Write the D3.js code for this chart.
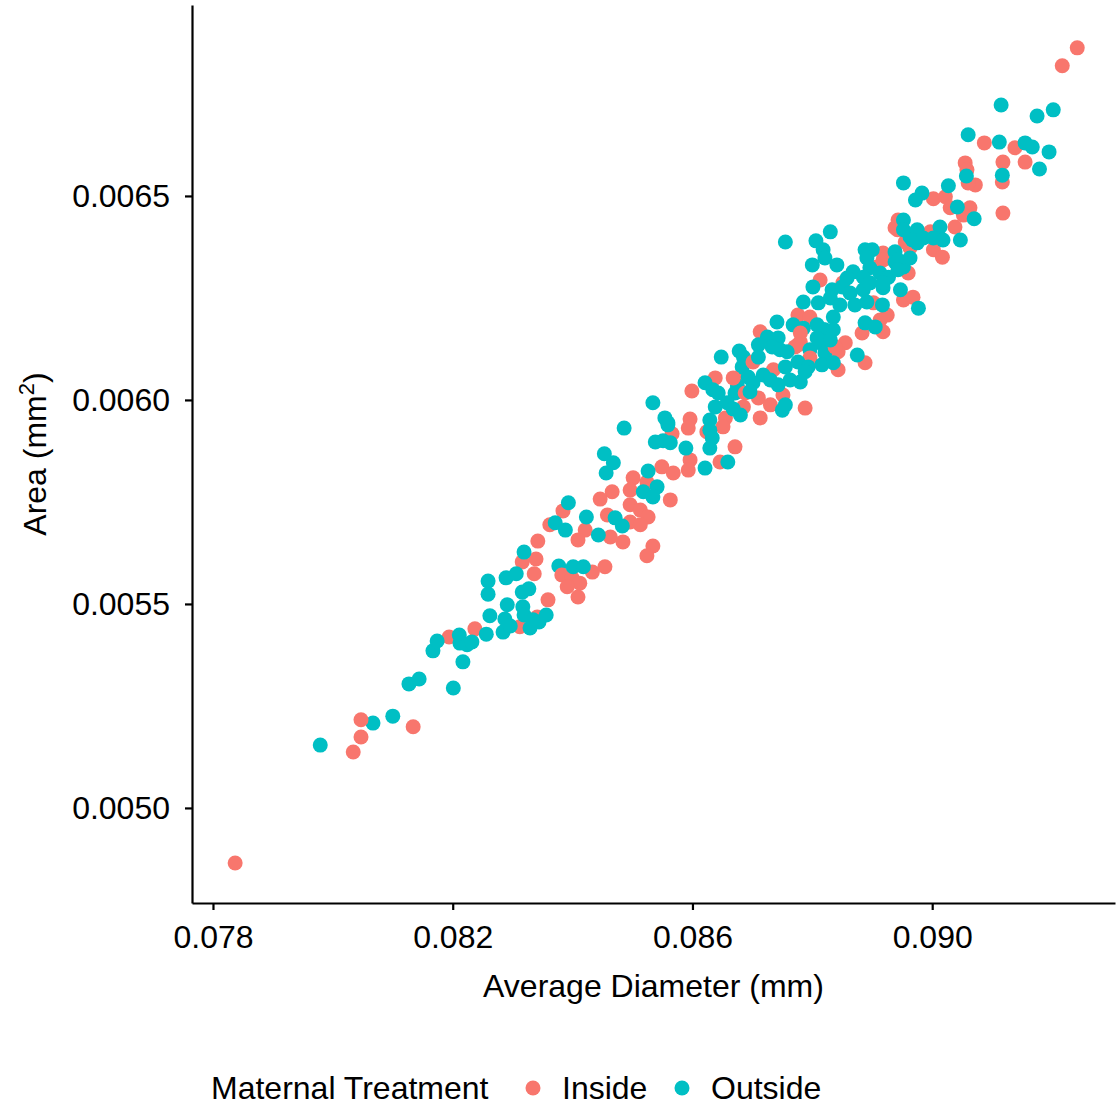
<!DOCTYPE html>
<html>
<head>
<meta charset="utf-8">
<script src="https://cdn.jsdelivr.net/npm/d3@7"></script>
<style>
    body { margin: 0; background: #ffffff; }
    text { font-family: "Liberation Sans", Arial, Helvetica, sans-serif; fill: #000000; }
</style>
</head>
<body>
<div id="scatter"></div>
<script>
// [average diameter (mm), area (mm^2)]
var insidePoints = [
    [0.07837, 0.004865], [0.08034, 0.005137], [0.08047, 0.005174], [0.08047, 0.005216], [0.08134, 0.005199],
    [0.08194, 0.005419], [0.08237, 0.005439], [0.08312, 0.005444], [0.08341, 0.005468], [0.08359, 0.005510],
    [0.08336, 0.005574], [0.08316, 0.005603], [0.08339, 0.005610], [0.08342, 0.005654], [0.08362, 0.005694],
    [0.08566, 0.005917], [0.08549, 0.005836], [0.08568, 0.005821], [0.08501, 0.005809], [0.08524, 0.005799],
    [0.08563, 0.005755], [0.08496, 0.005779], [0.08466, 0.005775], [0.08446, 0.005757], [0.08496, 0.005743],
    [0.08513, 0.005730], [0.08526, 0.005713], [0.08458, 0.005718], [0.08496, 0.005701], [0.08513, 0.005694],
    [0.08384, 0.005728], [0.08421, 0.005681], [0.08409, 0.005657], [0.08463, 0.005664], [0.08484, 0.005652],
    [0.08534, 0.005642], [0.08524, 0.005618], [0.08382, 0.005571], [0.08399, 0.005564], [0.08412, 0.005551],
    [0.08433, 0.005578], [0.08454, 0.005591], [0.08391, 0.005542], [0.08409, 0.005517],
    [0.08638, 0.006054], [0.08675, 0.006054], [0.08599, 0.006022], [0.08685, 0.005983], [0.08596, 0.005953],
    [0.08593, 0.005931], [0.08655, 0.005956], [0.08651, 0.005934], [0.08624, 0.005922], [0.08671, 0.005885],
    [0.08596, 0.005853], [0.08646, 0.005848], [0.08593, 0.005828],
    [0.08776, 0.006208], [0.08796, 0.006203], [0.08713, 0.006167], [0.08771, 0.006130], [0.08780, 0.006142],
    [0.08701, 0.006093], [0.08735, 0.006074], [0.08668, 0.006054], [0.08688, 0.006017], [0.08710, 0.006005],
    [0.08751, 0.006012], [0.08730, 0.005988], [0.08788, 0.005980], [0.08713, 0.005956],
    [0.08938, 0.006422], [0.08955, 0.006387], [0.08918, 0.006360], [0.08908, 0.006326], [0.08960, 0.006311],
    [0.08813, 0.006294], [0.08851, 0.006287], [0.08952, 0.006245], [0.08968, 0.006252], [0.08902, 0.006238],
    [0.08925, 0.006208], [0.08913, 0.006196], [0.08883, 0.006164], [0.08918, 0.006167], [0.08780, 0.006164],
    [0.08855, 0.006140], [0.08843, 0.006118], [0.08776, 0.006135], [0.08888, 0.006091], [0.08796, 0.006103],
    [0.08843, 0.006074],
    [0.09055, 0.006581], [0.09118, 0.006583], [0.09155, 0.006583], [0.09072, 0.006527], [0.09117, 0.006534],
    [0.09118, 0.006458], [0.09002, 0.006493], [0.09022, 0.006498], [0.09030, 0.006471], [0.09063, 0.006471],
    [0.09052, 0.006453], [0.09038, 0.006424], [0.08943, 0.006441], [0.08942, 0.006417], [0.08997, 0.006412],
    [0.08963, 0.006373], [0.09002, 0.006368], [0.09017, 0.006350], [0.08918, 0.006343],
    [0.09242, 0.006863], [0.09217, 0.006819], [0.09087, 0.006630], [0.09138, 0.006618], [0.09058, 0.006564],
    [0.09060, 0.006532], [0.08838, 0.006130]
];

var outsidePoints = [
    [0.07979, 0.005154], [0.08067, 0.005208], [0.08100, 0.005225], [0.08127, 0.005304], [0.08144, 0.005316],
    [0.08167, 0.005385], [0.08201, 0.005294], [0.08217, 0.005358], [0.08174, 0.005409], [0.08211, 0.005424],
    [0.08212, 0.005404], [0.08224, 0.005400], [0.08232, 0.005407], [0.08256, 0.005426], [0.08262, 0.005471],
    [0.08259, 0.005524], [0.08259, 0.005556], [0.08289, 0.005564], [0.08306, 0.005574], [0.08284, 0.005431],
    [0.08287, 0.005463], [0.08291, 0.005498], [0.08296, 0.005446], [0.08316, 0.005529], [0.08327, 0.005537],
    [0.08317, 0.005493], [0.08319, 0.005473], [0.08329, 0.005441], [0.08334, 0.005461], [0.08344, 0.005456],
    [0.08356, 0.005473], [0.08319, 0.005627], [0.08377, 0.005593], [0.08371, 0.005699],
    [0.08486, 0.005931], [0.08559, 0.005944], [0.08538, 0.005897], [0.08551, 0.005900], [0.08563, 0.005895],
    [0.08453, 0.005868], [0.08468, 0.005846], [0.08456, 0.005821], [0.08526, 0.005826], [0.08541, 0.005787],
    [0.08518, 0.005775], [0.08534, 0.005762], [0.08471, 0.005711], [0.08483, 0.005691], [0.08423, 0.005713],
    [0.08393, 0.005748], [0.08443, 0.005669], [0.08388, 0.005681], [0.08401, 0.005591], [0.08418, 0.005591],
    [0.08678, 0.006120], [0.08685, 0.006105], [0.08648, 0.006105], [0.08683, 0.006081], [0.08621, 0.006042],
    [0.08634, 0.006025], [0.08643, 0.006017], [0.08675, 0.006034], [0.08671, 0.006017], [0.08534, 0.005993],
    [0.08638, 0.005983], [0.08658, 0.005993], [0.08668, 0.005978], [0.08680, 0.005963], [0.08629, 0.005951],
    [0.08629, 0.005926], [0.08633, 0.005907], [0.08629, 0.005882], [0.08554, 0.005956], [0.08559, 0.005939],
    [0.08589, 0.005882], [0.08659, 0.005848], [0.08621, 0.005833],
    [0.08785, 0.006240], [0.08810, 0.006238], [0.08741, 0.006191], [0.08768, 0.006184], [0.08785, 0.006176],
    [0.08808, 0.006184], [0.08821, 0.006172], [0.08725, 0.006154], [0.08743, 0.006152], [0.08710, 0.006135],
    [0.08733, 0.006130], [0.08746, 0.006123], [0.08796, 0.006123], [0.08813, 0.006140], [0.08821, 0.006115],
    [0.08710, 0.006105], [0.08755, 0.006081], [0.08776, 0.006093], [0.08793, 0.006081], [0.08816, 0.006086],
    [0.08693, 0.006056], [0.08718, 0.006061], [0.08701, 0.006042], [0.08730, 0.006049], [0.08743, 0.006037],
    [0.08763, 0.006049], [0.08780, 0.006044], [0.08696, 0.006020], [0.08750, 0.005975], [0.08755, 0.005988],
    [0.08755, 0.006387], [0.08830, 0.006412], [0.08806, 0.006390], [0.08818, 0.006368], [0.08821, 0.006348],
    [0.08800, 0.006331], [0.08841, 0.006331], [0.08963, 0.006400], [0.08975, 0.006385], [0.08888, 0.006368],
    [0.08900, 0.006368], [0.08938, 0.006363], [0.08891, 0.006348], [0.08896, 0.006324], [0.08938, 0.006338],
    [0.08952, 0.006326], [0.08963, 0.006348], [0.08868, 0.006314], [0.08858, 0.006299], [0.08885, 0.006301],
    [0.08913, 0.006311], [0.08927, 0.006301], [0.08801, 0.006277], [0.08833, 0.006270], [0.08850, 0.006277],
    [0.08863, 0.006262], [0.08885, 0.006270], [0.08896, 0.006287], [0.08918, 0.006275], [0.08947, 0.006270],
    [0.08977, 0.006225], [0.08830, 0.006250], [0.08846, 0.006233], [0.08871, 0.006233], [0.08891, 0.006240],
    [0.08917, 0.006233], [0.08888, 0.006189], [0.08905, 0.006179], [0.08835, 0.006203], [0.08818, 0.006172],
    [0.08835, 0.006172], [0.08808, 0.006152], [0.08830, 0.006147], [0.08875, 0.006110], [0.08835, 0.006091],
    [0.08788, 0.006069], [0.08758, 0.006118],
    [0.09057, 0.006549], [0.08952, 0.006532], [0.09027, 0.006525], [0.08983, 0.006507], [0.08972, 0.006490],
    [0.09042, 0.006473], [0.09070, 0.006444], [0.09047, 0.006392], [0.08952, 0.006441], [0.08952, 0.006417],
    [0.08975, 0.006417], [0.09013, 0.006424], [0.08967, 0.006392], [0.08985, 0.006397], [0.09002, 0.006397],
    [0.09018, 0.006392], [0.08943, 0.006343], [0.08943, 0.006319], [0.08918, 0.006287], [0.09117, 0.006551],
    [0.09115, 0.006723], [0.09175, 0.006696], [0.09202, 0.006711], [0.09060, 0.006650], [0.09112, 0.006632],
    [0.09155, 0.006630], [0.09167, 0.006620], [0.09195, 0.006608], [0.09179, 0.006566]
];

var xTicks = [0.078, 0.082, 0.086, 0.090];
var yTicks = [0.0050, 0.0055, 0.0060, 0.0065];
var groups = ["Inside", "Outside"];
var groupColors = ["#F8766D", "#00BFC4"];

var width = 1118,
    height = 1107;
var panel = { left: 192, right: 1115, top: 5, bottom: 903 };

var svg = d3.select("#scatter")
    .append("svg")
    .attr("width", width)
    .attr("height", height);

var x = d3.scaleLinear()
    .domain([0.07765, 0.09305])
    .range([panel.left, panel.right]);

var y = d3.scaleLinear()
    .domain([0.004767, 0.006968])
    .range([panel.bottom, panel.top]);

var color = d3.scaleOrdinal()
    .domain(groups)
    .range(groupColors);

// mix the two groups so neither sits fully on top
var allPoints = [];
for (var i = 0; i < Math.max(insidePoints.length, outsidePoints.length); i++) {
    if (i < insidePoints.length) allPoints.push({ group: "Inside", d: insidePoints[i][0], a: insidePoints[i][1] });
    if (i < outsidePoints.length) allPoints.push({ group: "Outside", d: outsidePoints[i][0], a: outsidePoints[i][1] });
}

svg.append("g")
    .selectAll("circle")
    .data(allPoints)
    .enter()
    .append("circle")
    .attr("cx", function (p) { return x(p.d); })
    .attr("cy", function (p) { return y(p.a); })
    .attr("r", 7.5)
    .style("fill", function (p) { return color(p.group); });

// axes
var xAxis = svg.append("g")
    .attr("transform", "translate(0," + panel.bottom + ")")
    .call(d3.axisBottom(x).tickValues(xTicks).tickFormat(d3.format(".3f")).tickSize(7).tickSizeOuter(0).tickPadding(15));

var yAxis = svg.append("g")
    .attr("transform", "translate(" + panel.left + ",0)")
    .call(d3.axisLeft(y).tickValues(yTicks).tickFormat(d3.format(".4f")).tickSize(7).tickSizeOuter(0).tickPadding(15));

[xAxis, yAxis].forEach(function (ax) {
    ax.select(".domain").attr("stroke", "#000").attr("stroke-width", 2.2);
    ax.selectAll(".tick line").attr("stroke", "#000").attr("stroke-width", 2.2);
    ax.selectAll(".tick text")
        .style("font-family", "'Liberation Sans', Arial, sans-serif")
        .style("font-size", "32px")
        .attr("fill", "#000");
});

// axis titles
svg.append("text")
    .attr("x", (panel.left + panel.right) / 2)
    .attr("y", 997)
    .attr("text-anchor", "middle")
    .style("font-size", "32px")
    .text("Average Diameter (mm)");

var yTitle = svg.append("text")
    .attr("transform", "translate(46," + (panel.top + panel.bottom) / 2 + ") rotate(-90)")
    .attr("text-anchor", "middle")
    .style("font-size", "32px");
yTitle.append("tspan").text("Area (mm");
yTitle.append("tspan").attr("dy", -12).style("font-size", "22px").text("2");
yTitle.append("tspan").attr("dy", 12).text(")");

// legend
var legend = svg.append("g");
legend.append("text")
    .attr("x", 211)
    .attr("y", 1099)
    .style("font-size", "32px")
    .text("Maternal Treatment");

var legendX = [533, 682];
groups.forEach(function (g, k) {
    legend.append("circle")
        .attr("cx", legendX[k])
        .attr("cy", 1088)
        .attr("r", 7.5)
        .style("fill", color(g));
    legend.append("text")
        .attr("x", legendX[k] + 29)
        .attr("y", 1099)
        .style("font-size", "32px")
        .text(g);
});
</script>
</body>
</html>
